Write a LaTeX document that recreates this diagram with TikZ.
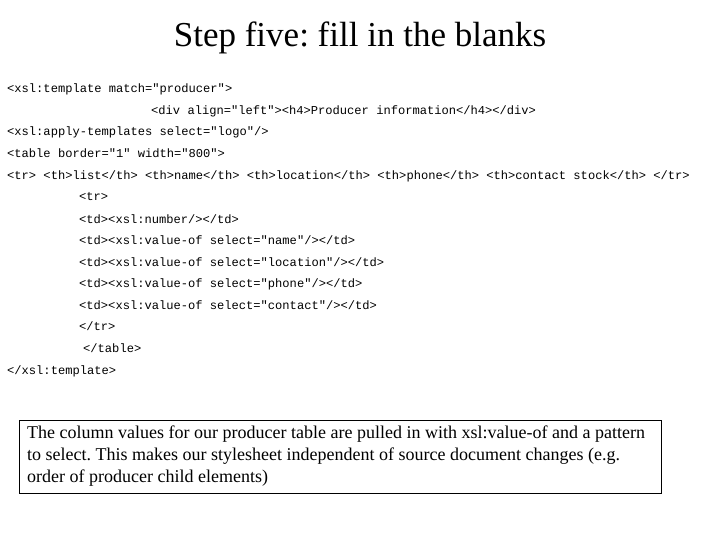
\documentclass[tikz,border=0pt]{standalone}
\usepackage{fontspec}
\setmainfont{Liberation Serif}
\setmonofont{Liberation Mono}
\frenchspacing
\begin{document}
\begin{tikzpicture}[x=1pt,y=-1pt,
  code/.style={anchor=base west,inner sep=0pt,font=\ttfamily\fontsize{12.1}{13}\selectfont}]
\useasboundingbox (0,0) rectangle (720,540);
\node[font=\fontsize{35}{40}\selectfont,inner sep=0pt,anchor=base] (title) at (360,47) {Step five: fill in the blanks};
\node[code] (l1) at (7,93) {<xsl:template match="producer">};
\node[code] (l2) at (151,115) {<div align="left"><h4>Producer information</h4></div>};
\node[code] (l3) at (7,136) {<xsl:apply-templates select="logo"/>};
\node[code] (l4) at (7,158) {<table border="1" width="800">};
\node[code] (l5) at (7,180) {<tr> <th>list</th> <th>name</th> <th>location</th> <th>phone</th> <th>contact stock</th> </tr>};
\node[code] (l6) at (79,201) {<tr>};
\node[code] (l7) at (79,223) {<td><xsl:number/></td>};
\node[code] (l8) at (79,244) {<td><xsl:value-of select="name"/></td>};
\node[code] (l9) at (79,266) {<td><xsl:value-of select="location"/></td>};
\node[code] (l10) at (79,287) {<td><xsl:value-of select="phone"/></td>};
\node[code] (l11) at (79,309) {<td><xsl:value-of select="contact"/></td>};
\node[code] (l12) at (79,330) {</tr>};
\node[code] (l13) at (83,352) {</table>};
\node[code] (l14) at (7,374) {</xsl:template>};
\draw[line width=0.8pt] (19,420) rectangle (661,493);
\node[anchor=north west,inner sep=0pt,align=left,font=\fontsize{18}{22}\selectfont] (note) at (27,426)
{The column values for our producer table are pulled in with xsl:value-of and a pattern\\
to select. This makes our stylesheet independent of source document changes (e.g.\\
order of producer child elements)};
\end{tikzpicture}
\end{document}
